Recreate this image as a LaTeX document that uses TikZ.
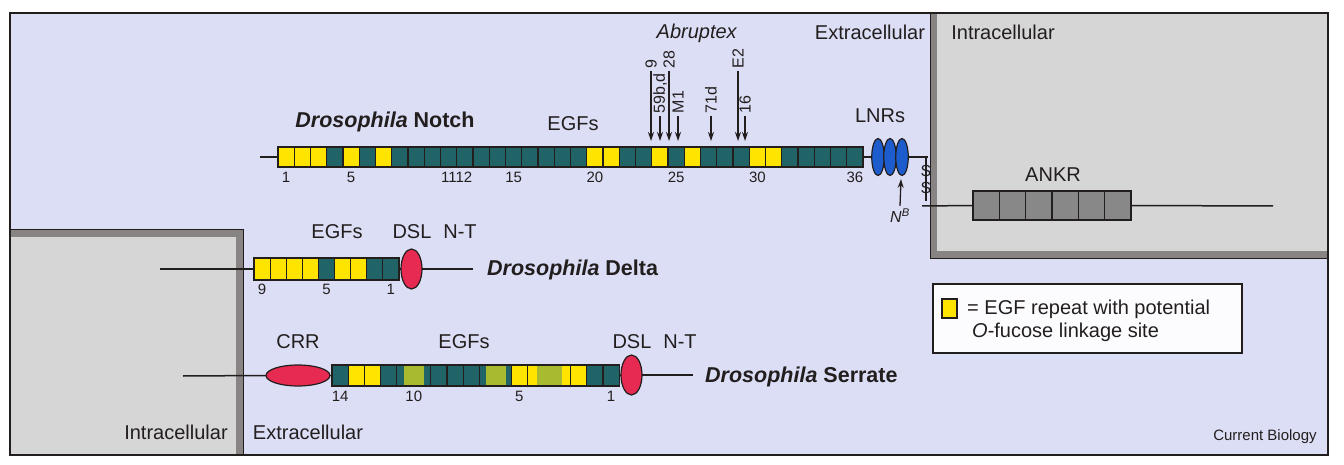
\documentclass[tikz,border=0pt]{standalone}
\usepackage{fontspec}
\setmainfont{Liberation Sans}
\usetikzlibrary{arrows.meta,shapes.geometric}
\definecolor{lav}{RGB}{219,222,245}
\definecolor{cellgray}{RGB}{214,214,214}
\definecolor{bandgray}{RGB}{136,132,132}
\definecolor{cT}{RGB}{33,100,104}
\definecolor{cY}{RGB}{255,228,0}
\definecolor{cL}{RGB}{168,186,48}
\definecolor{dslred}{RGB}{230,42,82}
\definecolor{lnrblue}{RGB}{28,92,205}
\definecolor{ankgray}{RGB}{136,136,136}
\definecolor{ink}{RGB}{35,30,30}
\newcommand\fsBig{\fontsize{20}{24}\selectfont}
\newcommand\fsSpec{\fontsize{21.5}{25}\selectfont}
\newcommand\fsNum{\fontsize{15}{18}\selectfont}
\newcommand\fsArr{\fontsize{16}{19}\selectfont}
\begin{document}
\begin{tikzpicture}[x=1pt,y=-1pt,
  lbl/.style={font=\fsBig, inner sep=0, text=ink},
  spec/.style={font=\fsSpec, inner sep=0, text=ink, anchor=west},
  num/.style={font=\fsNum, inner sep=0, text=ink, anchor=north},
  albl/.style={font=\fsArr, inner sep=2.5, rotate=90, anchor=west, text=ink},
  ln/.style={draw=ink, line width=1.5},
  arr/.style={draw=ink, line width=1.3, -{Stealth[length=9pt,width=6pt]}},
  egf/.style={draw=ink, line width=1.2, minimum height=20, minimum width=16.25, inner sep=0, outer sep=0, anchor=west},
  oval/.style={ellipse, draw=ink, line width=1.2, inner sep=0, outer sep=0},
  dsl/.style={oval, fill=dslred, minimum width=21, minimum height=40},
  lnr/.style={oval, fill=lnrblue, minimum width=12.5, minimum height=37}]
\useasboundingbox (0,0) rectangle (1344,465);
\fill[white] (0,0) rectangle (1344,465);
\draw[ink, line width=1.2, fill=lav] (10,13) rectangle (1328,455);
% intracellular regions
\fill[cellgray] (930,13) rectangle (1328,258);
\fill[bandgray] (930,13) rectangle (937,258);
\fill[bandgray] (930,251) rectangle (1328,258);
\draw[ink, line width=1] (930,13) -- (930,258) -- (1328,258);
\fill[cellgray] (10,230) rectangle (243,455);
\fill[bandgray] (10,230) rectangle (243,237);
\fill[bandgray] (236,230) rectangle (243,455);
\draw[ink, line width=1] (10,230) -- (243,230) -- (243,455);
\draw[ink, line width=1.2] (10,13) rectangle (1328,455);

% ---------- Notch ----------
\foreach \c [count=\i] in {cY,cY,cY,cT,cY,cT,cY,cT,cT,cT,cT,cT,cT,cT,cT,cT,cT,cT,cT,cY,cY,cT,cT,cY,cT,cY,cT,cT,cT,cY,cY,cT,cT,cT,cT,cT}
  \node[egf, fill=\c] (n\i) at ({278+(\i-1)*16.25},157) {};
\coordinate (nstart) at (260,157);
\draw[ln] (nstart) -- (n1.west);
\node[lnr] (l1) at (878,157) {};
\node[lnr] (l2) at (890,157) {};
\node[lnr] (l3) at (902,157) {};
\draw[ln] (n36.east) -- (l1.west);
\coordinate (ext) at (928,157);
\draw[ln] (l3.east) -- (ext);
\coordinate (ss1) at (926,157);
\coordinate (ss2) at (926,201);
\draw[ink, line width=1.2] (ss1) -- (ss2);
\node[font=\fsArr, inner sep=0, text=ink] (sA) at (926,171) {S};
\node[font=\fsArr, inner sep=0, text=ink] (sB) at (926,188) {S};
\coordinate (int) at (922,206);
\foreach \i in {1,...,6}
  \node[egf, fill=ankgray, minimum width=26.33, minimum height=29] (k\i) at ({973+(\i-1)*26.33},205.5) {};
\draw[ln] (int) -- (k1.west);
\coordinate (kend) at (1273,206);
\draw[ln] (k6.east) -- (kend);
\node[lbl] (ankr) at (1053,175) {ANKR};
% NB
\coordinate (nbtip) at (901,179);
\node[font=\fsArr, inner sep=0, text=ink] (nb) at (900,216) {\textit{N}\textsuperscript{\textit{B}}};
\draw[arr] ([yshift=3pt]nb.north) -- (nbtip);
% numbers
\node[num] at ([yshift=-5pt]n1.south) {1};
\node[num] at ([yshift=-5pt]n5.south) {5};
\node[num] at ([yshift=-5pt]n11.south east) {1112};
\node[num] at ([yshift=-5pt]n15.south) {15};
\node[num] at ([yshift=-5pt]n20.south) {20};
\node[num] at ([yshift=-5pt]n25.south) {25};
\node[num] at ([yshift=-5pt]n30.south) {30};
\node[num] at ([yshift=-5pt]n36.south) {36};
% labels
\node[font=\fsSpec, inner sep=0, text=ink] (notchname) at (385,122) {{\bfseries\itshape Drosophila} \textbf{Notch}};
\node[lbl] (egfn) at (573,124) {EGFs};
\node[lbl] (lnrs) at (880,116) {LNRs};
\node[lbl] (abr) at (697,33) {\textit{Abruptex}};
\node[lbl] (extA) at (870,32) {Extracellular};
\node[lbl] (intA) at (1003,32) {Intracellular};
% Abruptex arrows
\node[albl] (t9) at (651,71) {9};
\node[albl] (t59) at (660,116) {59b,d};
\node[albl] (t28) at (669,71) {28};
\node[albl] (tM1) at (678,116) {M1};
\node[albl] (t71) at (711,116) {71d};
\node[albl] (tE2) at (738,71) {E2};
\node[albl] (t16) at (745,116) {16};
\coordinate (h9) at (651,141);
\coordinate (h59) at (660,141);
\coordinate (h28) at (669,141);
\coordinate (hM1) at (678,141);
\coordinate (h71) at (711,141);
\coordinate (hE2) at (738,141);
\coordinate (h16) at (745,141);
\draw[arr] (t9.west) -- (h9);
\draw[arr] (t59.west) -- (h59);
\draw[arr] (t28.west) -- (h28);
\draw[arr] (tM1.west) -- (hM1);
\draw[arr] (t71.west) -- (h71);
\draw[arr] (tE2.west) -- (hE2);
\draw[arr] (t16.west) -- (h16);

% ---------- Delta ----------
\foreach \c [count=\i] in {cY,cY,cY,cY,cT,cY,cY,cT,cT}
  \node[egf, fill=\c, minimum width=16.1, minimum height=22] (d\i) at ({254+(\i-1)*16.1},269) {};
\coordinate (dstart) at (160,269);
\draw[ln] (dstart) -- (d1.west);
\node[dsl] (dsl1) at (411.5,269) {};
\draw[ln] (d9.east) -- (dsl1.west);
\coordinate (dend) at (473,269);
\draw[ln] (dsl1.east) -- (dend);
\node[num] at ([yshift=-4pt]d1.south) {9};
\node[num] at ([yshift=-4pt]d5.south) {5};
\node[num] at ([yshift=-4pt]d9.south) {1};
\node[lbl] (egfd) at (337,232) {EGFs};
\node[lbl] (dsld) at (412,232) {DSL};
\node[lbl] (ntd) at (460,232) {N-T};
\node[spec] (deltaname) at (487,270) {{\bfseries\itshape Drosophila} \textbf{Delta}};

% ---------- Serrate ----------
\node[inner sep=0, outer sep=0, minimum size=0] (s0) at (332,375.5) {};
\foreach \w/\c [count=\i] in {16.2/cT,16.2/cY,16.2/cY,16.2/cT,34/cT,16.2/cT,16.2/cT,16.2/cT,31.7/cT,16.2/cY,43.3/cY,16.2/cY,16.2/cT,16.2/cT}{
  \pgfmathtruncatemacro\prv{\i-1}
  \node[egf, fill=\c, minimum width=\w, minimum height=21] (s\i) at (s\prv.east) {};
}
\fill[cL] ([xshift=7.3pt,yshift=0.6pt]s5.south west) rectangle ([xshift=-6.7pt,yshift=-0.6pt]s5.north east);
\fill[cL] ([xshift=6.7pt,yshift=0.6pt]s9.south west) rectangle ([xshift=-5pt,yshift=-0.6pt]s9.north east);
\fill[cL] ([xshift=10pt,yshift=0.6pt]s11.south west) rectangle ([xshift=-8.3pt,yshift=-0.6pt]s11.north east);
\node[oval, fill=dslred, minimum width=64, minimum height=21] (crr) at (298,375.5) {};
\coordinate (sstart) at (183,376);
\draw[ln] (sstart) -- (crr.west);
\draw[ln] (crr.east) -- (s1.west);
\node[dsl] (dsl2) at (631.5,375) {};
\draw[ln] (s14.east) -- (dsl2.west);
\coordinate (send) at (693,375);
\draw[ln] (dsl2.east) -- (send);
\node[num] at ([yshift=-5pt]s1.south) {14};
\node[num] at ([yshift=-5pt]s5.south) {10};
\node[num] at ([yshift=-5pt]s10.south) {5};
\node[num] at ([yshift=-5pt]s14.south) {1};
\node[lbl] (crrl) at (298,342) {CRR};
\node[lbl] (egfs) at (464,342) {EGFs};
\node[lbl] (dsls) at (632,342) {DSL};
\node[lbl] (nts) at (680,342) {N-T};
\node[spec] (serratename) at (705,377) {{\bfseries\itshape Drosophila} \textbf{Serrate}};

% ---------- bottom labels ----------
\node[lbl] (intB) at (176,432) {Intracellular};
\node[lbl] (extB) at (308,432) {Extracellular};
\node[font=\fsNum, inner sep=0, text=ink] (cb) at (1265,437) {Current Biology};

% ---------- legend ----------
\node[draw=ink, line width=1.2, fill=white!92!lav, minimum width=309, minimum height=69, inner sep=0, outer sep=0, anchor=north west] (leg) at (933,284) {};
\node[draw=ink, line width=1.2, fill=cY, minimum width=15, minimum height=19, inner sep=0] (legsq) at (949.5,308.5) {};
\node[lbl, anchor=west] (legt1) at (967,309) {= EGF repeat with potential};
\node[lbl, anchor=west] (legt2) at (972,332) {\textit{O}-fucose linkage site};
\end{tikzpicture}
\end{document}
